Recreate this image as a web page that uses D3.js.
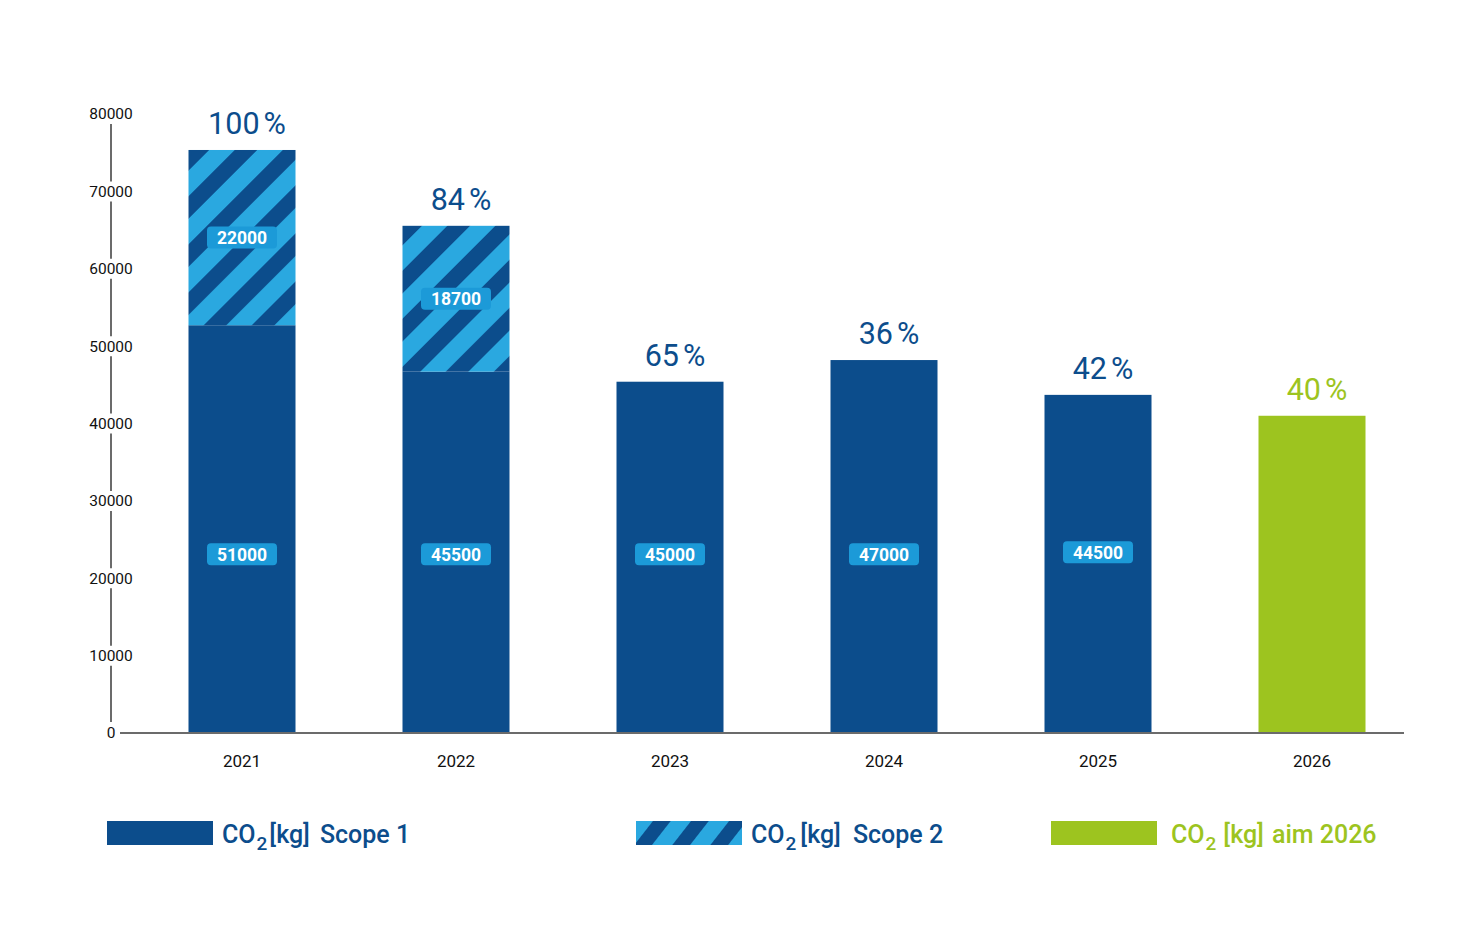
<!DOCTYPE html>
<html>
<head>
<meta charset="utf-8">
<script src="https://cdn.jsdelivr.net/npm/d3@7"></script>
<style>
  body { margin: 0; background: #fff; }
  text { font-family: Roboto, "Noto Sans", sans-serif; }
</style>
</head>
<body>
<script>
// data
var years = ["2021", "2022", "2023", "2024", "2025", "2026"];
var scope1 = [52700, 46700, 45400, 48200, 43700, 0];
var scope2 = [22650, 18850, 0, 0, 0, 0];
var aim = [0, 0, 0, 0, 0, 41000];
var scope1Labels = ["51000", "45500", "45000", "47000", "44500", ""];
var scope2Labels = ["22000", "18700", "", "", "", ""];
var percents = ["100", "84", "65", "36", "42", "40"];
var yTicks = [0, 10000, 20000, 30000, 40000, 50000, 60000, 70000, 80000];

var colors = {
    dark: "#0c4d8c",
    light: "#2aa8e0",
    pill: "#1c9ad8",
    green: "#9dc41f",
    axis: "#6b6b6b",
    text: "#111"
};

var svg = d3.select("body").append("svg")
    .attr("width", 1480)
    .attr("height", 925);

// stripe pattern for scope 2
var defs = svg.append("defs");
var pat = defs.append("pattern")
    .attr("id", "hatch")
    .attr("patternUnits", "userSpaceOnUse")
    .attr("width", 34)
    .attr("height", 34)
    .attr("patternTransform", "rotate(45)");
pat.append("rect").attr("width", 34).attr("height", 34).attr("fill", colors.light);
pat.append("rect").attr("width", 16).attr("height", 34).attr("fill", colors.dark);

var legPat = defs.append("pattern")
    .attr("id", "hatchLegend")
    .attr("patternUnits", "userSpaceOnUse")
    .attr("width", 30)
    .attr("height", 30)
    .attr("patternTransform", "rotate(38)");
legPat.append("rect").attr("width", 30).attr("height", 30).attr("fill", colors.light);
legPat.append("rect").attr("width", 14).attr("height", 30).attr("fill", colors.dark);

var x = d3.scalePoint().domain(years).range([242, 1312]);
var barW = 107;
var y = d3.scaleLinear().domain([0, 80000]).range([733, 114]);

// y axis: labels sit on the line, line broken around them
var yAxis = svg.append("g");
yAxis.selectAll("line.seg")
    .data(yTicks.slice(1))
    .enter().append("line")
    .attr("x1", 111).attr("x2", 111)
    .attr("y1", function (d) { return y(d) + 10; })
    .attr("y2", function (d) { return y(d - 10000) - (d - 10000 === 0 ? 11 : 10); })
    .attr("stroke", colors.axis)
    .attr("stroke-width", 2);
yAxis.selectAll("text")
    .data(yTicks)
    .enter().append("text")
    .attr("x", 111)
    .attr("y", function (d) { return y(d); })
    .attr("dy", "0.35em")
    .attr("text-anchor", "middle")
    .attr("font-size", 15.5)
    .attr("fill", colors.text)
    .text(function (d) { return d; });

// bars
var bars = svg.append("g");
years.forEach(function (yr, i) {
    var cx = x(yr);
    if (scope1[i] > 0) {
        bars.append("rect")
            .attr("x", cx - barW / 2).attr("width", barW)
            .attr("y", y(scope1[i])).attr("height", y(0) - y(scope1[i]))
            .attr("fill", colors.dark);
    }
    if (scope2[i] > 0) {
        bars.append("rect")
            .attr("x", cx - barW / 2).attr("width", barW)
            .attr("y", y(scope1[i] + scope2[i])).attr("height", y(scope1[i]) - y(scope1[i] + scope2[i]))
            .attr("fill", "url(#hatch)");
    }
    if (aim[i] > 0) {
        bars.append("rect")
            .attr("x", cx - barW / 2).attr("width", barW)
            .attr("y", y(aim[i])).attr("height", y(0) - y(aim[i]))
            .attr("fill", colors.green);
    }
});

// baseline
svg.append("line")
    .attr("x1", 120).attr("x2", 1404)
    .attr("y1", y(0)).attr("y2", y(0))
    .attr("stroke", colors.axis)
    .attr("stroke-width", 2);

// year labels
svg.selectAll("text.year")
    .data(years)
    .enter().append("text")
    .attr("class", "year")
    .attr("x", function (d) { return x(d); })
    .attr("y", 767)
    .attr("text-anchor", "middle")
    .attr("font-size", 17)
    .attr("fill", colors.text)
    .text(function (d) { return d; });

// percent labels above bars
years.forEach(function (yr, i) {
    var top = Math.max(scope1[i] + scope2[i], aim[i]);
    var t = svg.append("text")
        .attr("x", x(yr) + 5)
        .attr("y", y(top) - 16)
        .attr("text-anchor", "middle")
        .attr("font-size", 30.5)
        .attr("fill", aim[i] > 0 ? colors.green : colors.dark);
    t.append("tspan").text(percents[i]);
    t.append("tspan").attr("dx", 4).text("%");
});

// value pills
function pill(cx, cy, label) {
    var g = svg.append("g");
    g.append("rect")
        .attr("x", cx - 35).attr("y", cy - 11)
        .attr("width", 70).attr("height", 22)
        .attr("rx", 4)
        .attr("fill", colors.pill);
    g.append("text")
        .attr("x", cx).attr("y", cy)
        .attr("dy", "0.36em")
        .attr("text-anchor", "middle")
        .attr("font-size", 17.5)
        .attr("font-weight", "bold")
        .attr("fill", "#fff")
        .text(label);
}
years.forEach(function (yr, i) {
    if (scope1Labels[i]) pill(x(yr), y(23100) + (i === 4 ? -2 : 0), scope1Labels[i]);
    if (scope2Labels[i]) pill(x(yr), (y(scope1[i]) + y(scope1[i] + scope2[i])) / 2, scope2Labels[i]);
});

// legend
var legendItems = [
    { x: 107, fill: colors.dark, color: colors.dark, tail: "Scope 1", pre: 0, gap: 10 },
    { x: 636, fill: "url(#hatchLegend)", color: colors.dark, tail: "Scope 2", pre: 2, gap: 12 },
    { x: 1051, fill: colors.green, color: colors.green, tail: "aim 2026", pre: 5, gap: 8 }
];
legendItems.forEach(function (it) {
    svg.append("rect")
        .attr("x", it.x).attr("y", 821)
        .attr("width", 106).attr("height", 24)
        .attr("fill", it.fill);
    var t = svg.append("text")
        .attr("x", it.x + 115 + (it.fill === colors.green ? 5 : 0))
        .attr("y", 843)
        .attr("font-size", 25)
        .attr("font-weight", 500)
        .attr("fill", it.color);
    t.append("tspan").text("CO");
    t.append("tspan").attr("font-size", 19).attr("dy", 7).attr("dx", 1).text("2");
    t.append("tspan").attr("dy", -7).attr("dx", 2 + it.pre).text("[kg]");
    t.append("tspan").attr("dx", it.gap).text(it.tail);
});
</script>
</body>
</html>
